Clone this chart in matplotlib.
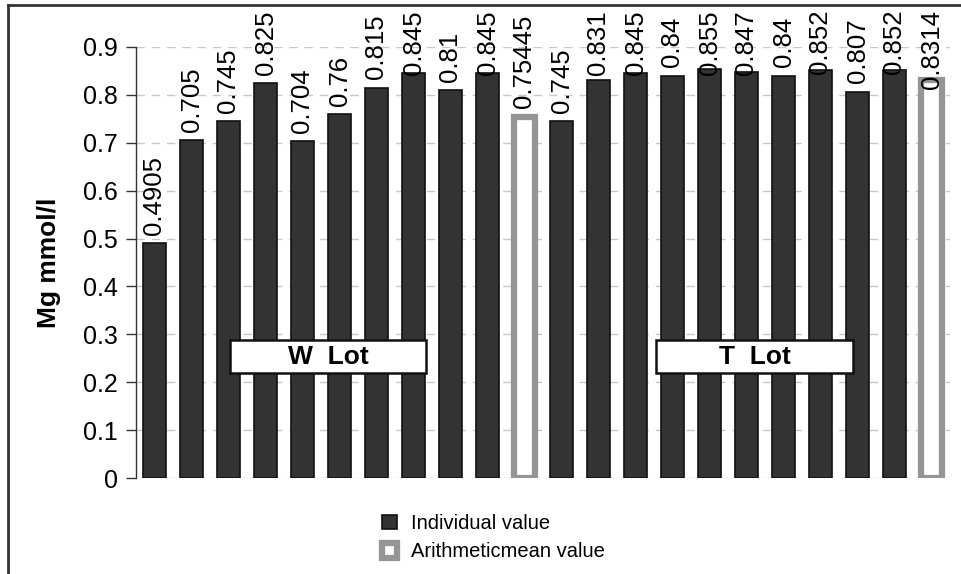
import matplotlib
matplotlib.use("Agg")
import matplotlib.pyplot as plt
from matplotlib.patches import Rectangle
from matplotlib.lines import Line2D
from matplotlib.transforms import offset_copy

plt.rcParams['font.family'] = ['Liberation Sans', 'DejaVu Sans']

# Data
w_values = [0.4905, 0.705, 0.745, 0.825, 0.704, 0.76, 0.815, 0.845, 0.81, 0.845]
w_mean = 0.75445
t_values = [0.745, 0.831, 0.845, 0.84, 0.855, 0.847, 0.84, 0.852, 0.807, 0.852]
t_mean = 0.8314
y_ticks = [0, 0.1, 0.2, 0.3, 0.4, 0.5, 0.6, 0.7, 0.8, 0.9]
y_ticklabels = ["0", "0.1", "0.2", "0.3", "0.4", "0.5", "0.6", "0.7", "0.8", "0.9"]
group_labels = ["W  Lot", "T  Lot"]
legend_labels = ["Individual value", "Arithmeticmean value"]
y_label = "Mg mmol/l"

values = w_values + [w_mean] + t_values + [t_mean]
is_mean = [False] * len(w_values) + [True] + [False] * len(t_values) + [True]

W, H = 961, 574
fig = plt.figure(figsize=(W / 100, H / 100), dpi=100)
ax = fig.add_axes([136/W, 1 - 478/H, (950-136)/W, (478-47)/H])

xs = list(range(len(values)))
ind_x = [x for x, m in zip(xs, is_mean) if not m]
ind_v = [v for v, m in zip(values, is_mean) if not m]
mean_x = [x for x, m in zip(xs, is_mean) if m]
mean_v = [v for v, m in zip(values, is_mean) if m]

b1 = ax.bar(ind_x, ind_v, width=0.6, color='#333333', edgecolor='#111111', linewidth=1.2, zorder=3,
            label=legend_labels[0])
b2 = ax.bar(mean_x, mean_v, width=0.56, color='white', edgecolor='#959595', linewidth=4.5, zorder=3,
            label=legend_labels[1])

ax.set_xlim(-0.5, len(values) - 0.5)
ax.set_ylim(0, 0.9)

texts = []
for x, v in zip(xs, values):
    t = ax.text(x, v, f"{v:g}", transform=offset_copy(ax.transData, fig=fig, x=0, y=6, units='points'),
                rotation=90, ha='center', va='bottom', fontsize=18.5, clip_on=False, zorder=4)
    texts.append((t, x, v))

ax.set_yticks(y_ticks)
ax.set_yticklabels(y_ticklabels, fontsize=18)
ax.set_xticks([])
ax.tick_params(axis='y', direction='out', length=7, width=1, color='#333333', pad=6)
for s in ['top', 'right', 'bottom']:
    ax.spines[s].set_visible(False)
ax.spines['left'].set_color('#333333')
ax.spines['left'].set_linewidth(1)
ax.yaxis.grid(True, linestyle=(0, (6, 5)), color='#c8c8c8', linewidth=1, zorder=0)
ax.set_axisbelow(True)
ax.set_ylabel(y_label, fontsize=19, fontweight='bold', labelpad=16)

# Group boxes
for (x0, x1), lbl in zip([(2.04, 7.34), (13.55, 18.88)], group_labels):
    ax.add_patch(Rectangle((x0, 0.219), x1 - x0, 0.069, facecolor='white', edgecolor='#111111',
                           linewidth=1.8, zorder=5))
    ax.text((x0 + x1) / 2, 0.2535, lbl, ha='center', va='center', fontsize=19, fontweight='bold', zorder=6)

fig.legend(handles=[b1, b2], labels=legend_labels, loc='upper left',
           bbox_to_anchor=(364/W, 1 - 496/H), frameon=False, fontsize=14.5,
           handlelength=0.75, handleheight=0.75, handletextpad=0.7, labelspacing=0.45)

# Figure frame (left and top)
fig.add_artist(Line2D([8/W, 8/W], [0, 1 - 5/H], color='#333333', linewidth=2))
fig.add_artist(Line2D([8/W, 1], [1 - 5/H, 1 - 5/H], color='#333333', linewidth=2))

# Keep value labels inside the figure (shift down the ones that would overflow the top)
fig.canvas.draw()
renderer = fig.canvas.get_renderer()
limit = H - 10
for t, x, v in texts:
    bb = t.get_window_extent(renderer)
    if bb.y1 > limit:
        shift_pt = (bb.y1 - limit) * 72 / fig.dpi
        t.set_transform(offset_copy(ax.transData, fig=fig, x=0, y=6 - shift_pt, units='points'))

fig.savefig("out.png", dpi=100)
